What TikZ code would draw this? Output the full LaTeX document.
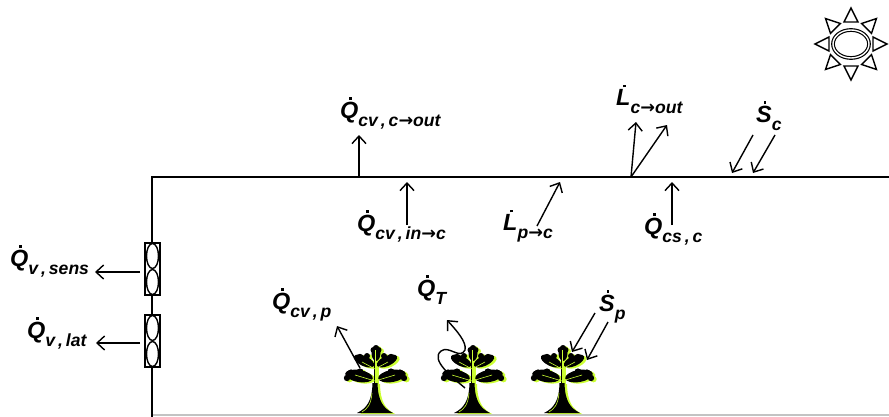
\documentclass[tikz,border=0pt]{standalone}
\usepackage{fontspec}
\setmainfont{Liberation Sans}
\newfontfamily\arrowfont{DejaVu Sans}
\usetikzlibrary{arrows.meta}

\definecolor{leafgreen}{RGB}{204,255,51}
\definecolor{floorgrey}{RGB}{195,195,195}

% dot over a symbol (time rate)
\newcommand{\flowdot}[1]{\setbox0\hbox{#1}\rlap{\hbox to\wd0{\hss\raisebox{\dimexpr\ht0+1.3pt\relax}{\kern1.8pt\rule{2.3pt}{2.3pt}}\hss}}\box0}
% rate symbol with lowered subscript
\newcommand{\flux}[2]{\flowdot{#1}\raisebox{-7pt}{\fontsize{15}{15}\selectfont #2}}
\newcommand{\tofl}{{\arrowfont\bfseries →}}

% one plant, base of the trunk at (0,0)
\newcommand{\plantbody}{%
  \fill (-18,0) .. controls (-8,-5) and (-3,-12) .. (-2.5,-30) -- (2.5,-30) .. controls (3,-12) and (8,-5) .. (18,0) -- cycle;
  \fill (-1.2,-29) rectangle (1.2,-58);
  % top leaf
  \fill (1,-60) ellipse [x radius=4.5, y radius=8];
  \fill (-1.5,-63) circle [radius=3] (3.5,-63) circle [radius=3];
  % upper pair
  \fill[rotate around={-25:(-11,-52)}] (-11,-52) ellipse [x radius=11, y radius=5];
  \fill (-15,-56) circle [radius=3.2] (-8,-57) circle [radius=3];
  \fill[rotate around={25:(12,-52)}] (12,-52) ellipse [x radius=11, y radius=5];
  \fill (16,-56) circle [radius=3.2] (9,-57) circle [radius=3];
  % lower pair
  \fill[rotate around={-10:(-16,-37)}] (-16,-37) ellipse [x radius=14, y radius=6];
  \fill (-24,-40) circle [radius=3.6] (-15,-41) circle [radius=3.6] (-28,-35) circle [radius=3.2];
  \fill[rotate around={10:(17,-37)}] (17,-37) ellipse [x radius=14, y radius=6];
  \fill (25,-40) circle [radius=3.6] (16,-41) circle [radius=3.6] (29,-35) circle [radius=3.2];
}
\newcommand{\plantveins}{%
  \draw (0,-30) -- (0,-63);
  \draw (0,-44) -- (-13,-51) (0,-44) -- (13,-51);
  \draw (0,-32) -- (-20,-38) (0,-32) -- (20,-38);
  \draw (-3,-20) .. controls (-4,-8) and (-8,-4) .. (-13,-1);
}
\tikzset{
  pics/plant/.style={code={
    \begin{scope}[shift={(2.5,1.2)}, fill=leafgreen] \plantbody \end{scope}
    \begin{scope}[fill=black] \plantbody \end{scope}
    \begin{scope}[draw=leafgreen, line width=0.5pt] \plantveins \end{scope}
  }}
}

\begin{document}
\begin{tikzpicture}[x=0.03cm, y=-0.03cm,
    flow/.style={-{Straight Barb[length=6.5pt,width=12pt,line width=1.2pt]}, line width=1.2pt},
    wall/.style={line width=1.6pt},
    vent/.style={line width=1.4pt, fill=white},
    lbl/.style={anchor=base west, inner sep=0pt, font=\fontsize{20}{22}\selectfont\bfseries\itshape}]
  \useasboundingbox (0,0) rectangle (889,417);

  % greenhouse walls
  \coordinate (roofL) at (152,177);
  \coordinate (roofR) at (889,177);
  \coordinate (wallB) at (152,417);
  \draw[floorgrey, line width=1.6pt] (152,415) -- (889,415);
  \draw[wall] (wallB) -- (roofL) -- (roofR);

  % vents
  \draw[vent] (145,243) rectangle (160,295);
  \draw[line width=1.2pt] (152.5,256) ellipse [x radius=6, y radius=12.5]
                          (152.5,282) ellipse [x radius=6, y radius=12.5];
  \draw[vent] (145,315) rectangle (160,367);
  \draw[line width=1.2pt] (152.5,328) ellipse [x radius=6, y radius=12.5]
                          (152.5,354) ellipse [x radius=6, y radius=12.5];

  % sun
  \coordinate (sun) at (851,44);
  \draw[double, double distance=1.2pt, line width=1pt] (sun) ellipse [x radius=18, y radius=14];
  \foreach \a in {0,45,...,315}
    \draw[line width=1.2pt, shift={(sun)}, rotate=\a] (22,-7) -- (36,0) -- (22,7) -- cycle;

  % plants
  \pic at (375,413) {plant};
  \pic at (472,413) {plant};
  \pic at (562,413) {plant};

  % labels
  \node (qvsens) [lbl] at (10,266) {\flux{Q}{v\,,\,sens}};
  \node (qvlat) [lbl] at (27,338) {\flux{Q}{v\,,\,lat}};
  \node (qcvout) [lbl] at (340,118) {\flux{Q}{cv\,,\,c\tofl out}};
  \node (qcvin) [lbl] at (357,231) {\flux{Q}{cv\,,\,in\tofl c}};
  \node (lpc) [lbl] at (503,230) {\flux{L}{p\tofl c}};
  \node (lcout) [lbl] at (616,105) {\flux{L}{c\tofl out}};
  \node (sc) [lbl] at (756,122) {\flux{S}{c}};
  \node (qcs) [lbl] at (644,234) {\flux{Q}{cs\,,\,c}};
  \node (qcvp) [lbl] at (272,309) {\flux{Q}{cv\,,\,p}};
  \node (qt) [lbl] at (417,296) {\flux{Q}{T}};
  \node (sp) [lbl] at (599,311) {\flux{S}{p}};

  % arrow ends
  \coordinate (sensA) at (140,272);  \coordinate (sensB) at (95,272);
  \coordinate (latA) at (140,343);   \coordinate (latB) at (96,343);
  \coordinate (outA) at (359,177);   \coordinate (outB) at (359,135);
  \coordinate (inA) at (407,225);    \coordinate (inB) at (407,182);
  \coordinate (lpA) at (537,226);    \coordinate (lpB) at (560,182);
  \coordinate (lcA) at (631,177);    \coordinate (lcB) at (636,122);
  \coordinate (lcC) at (667,125);
  \coordinate (scA) at (753,135);    \coordinate (scB) at (732,173);
  \coordinate (scC) at (775,135);    \coordinate (scD) at (753,173);
  \coordinate (csA) at (672,225);    \coordinate (csB) at (672,182);
  \coordinate (cvpA) at (360,368);   \coordinate (cvpB) at (337,326);
  \coordinate (spA) at (595,313);    \coordinate (spB) at (572,352);
  \coordinate (spC) at (608,322);    \coordinate (spD) at (587,360);
  \coordinate (qtA) at (465,388);    \coordinate (qtB) at (447,320);

  % flows
  \draw[flow] (sensA) -- (sensB);
  \draw[flow] (latA) -- (latB);
  \draw[flow] (outA) -- (outB);
  \draw[flow] (inA) -- (inB);
  \draw[flow] (lpA) -- (lpB);
  \draw[flow] (lcA) -- (lcB);
  \draw[flow] (lcA) -- (lcC);
  \draw[flow] (scA) -- (scB);
  \draw[flow] (scC) -- (scD);
  \draw[flow] (csA) -- (csB);
  \draw[flow] (cvpA) -- (cvpB);
  \draw[flow] (spA) -- (spB);
  \draw[flow] (spC) -- (spD);
  \draw[flow] (qtA) .. controls (452,377) and (430,360) .. (441,351)
                    .. controls (449,345) and (460,360) .. (465,350)
                    .. controls (467,342) and (456,330) .. (qtB);
\end{tikzpicture}
\end{document}
